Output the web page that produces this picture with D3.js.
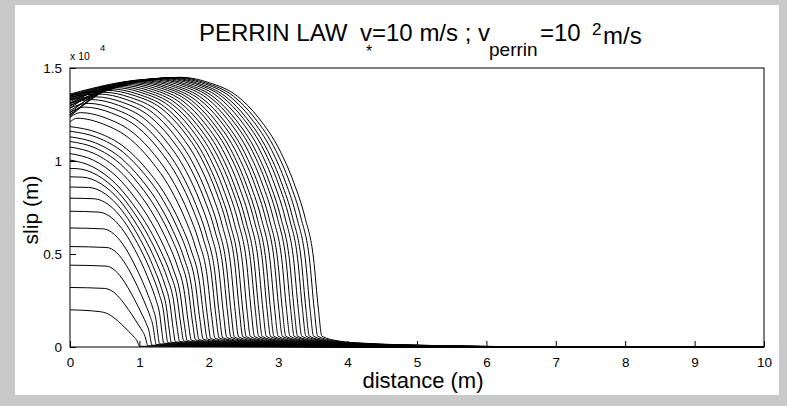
<!DOCTYPE html>
<html>
<head>
<meta charset="utf-8">
<script src="https://cdnjs.cloudflare.com/ajax/libs/d3/7.8.5/d3.min.js"></script>
<style>
  html, body { margin: 0; padding: 0; background: #c9c9c9; }
  svg { display: block; }
  text { font-family: "Liberation Sans", Arial, sans-serif; fill: #000; }
</style>
</head>
<body>
<svg id="chart" width="787" height="406"></svg>
<script>
// slip at x = 0 for each time step (x 1e-4 m)
const startSlip = [0.20, 0.32, 0.44, 0.54, 0.64, 0.73, 0.80, 0.86, 0.915, 0.96,
  1.005, 1.04, 1.075, 1.105, 1.13, 1.16, 1.185,
  1.21, 1.235, 1.26, 1.285, 1.31, 1.33, 1.345, 1.355, 1.35, 1.335, 1.31, 1.285,
  1.26, 1.245, 1.24, 1.25, 1.27, 1.295, 1.32, 1.34, 1.355, 1.36, 1.35, 1.33,
  1.31, 1.30, 1.31, 1.33, 1.35];
// where each curve's front starts to fall (m) and the slip there
const humpDist = [0.43, 0.50, 0.52, 0.53, 0.48, 0.42, 0.35, 0.27, 0.18, 0.10,
  0, 0, 0, 0, 0, 0, 0,
  0.10, 0.15, 0.21, 0.26, 0.31, 0.37, 0.42, 0.48, 0.53, 0.58, 0.64, 0.69, 0.74,
  0.80, 0.85, 0.91, 0.96, 1.01, 1.07, 1.12, 1.18, 1.23, 1.28, 1.34, 1.39, 1.44,
  1.50, 1.55, 1.60];
const humpSlip = [0.19, 0.315, 0.435, 0.535, 0.635, 0.725, 0.797, 0.858, 0.913, 0.959,
  1.005, 1.04, 1.075, 1.105, 1.13, 1.16, 1.185,
  1.23, 1.26, 1.29, 1.31, 1.33, 1.345, 1.36, 1.37, 1.38, 1.388, 1.395, 1.401,
  1.407, 1.412, 1.417, 1.421, 1.425, 1.428, 1.431, 1.434, 1.437, 1.44, 1.442,
  1.444, 1.446, 1.447, 1.448, 1.449, 1.45];
// rupture tip, where slip is down to the floor (m)
const tipDist = [1.00, 1.12, 1.18, 1.24, 1.29, 1.35, 1.41, 1.46, 1.52, 1.58,
  1.64, 1.69, 1.75, 1.81, 1.86, 1.92, 1.98, 2.03, 2.09, 2.15, 2.20, 2.26, 2.32,
  2.37, 2.43, 2.49, 2.54, 2.60, 2.66, 2.72, 2.77, 2.83, 2.89, 2.94, 3.00, 3.06,
  3.11, 3.17, 3.23, 3.28, 3.34, 3.40, 3.45, 3.51, 3.57, 3.63];
// how soft (S-shaped) each front is: 1 = soft, 0 = dome of the outer curve
const frontSoft = [0.5, 0.5, 0.45, 0.4, 0.35, 0.3, 0.28, 0.26, 0.24, 0.22, 0.2,
  0.18, 0.16, 0.14, 0.12, 0.1, 0.09, 0.08, 0.07, 0.06, 0.05, 0.04, 0.03, 0.02, 0.01, 0,
  0, 0, 0, 0, 0, 0, 0, 0, 0, 0, 0, 0, 0, 0, 0, 0, 0, 0, 0, 0];
// front shapes: share of hump->tip span, share of hump slip
const frontU = [0.2, 0.4, 0.55, 0.7, 0.8, 0.88, 0.94, 0.975, 1.0];
const domeV = [0.98, 0.93, 0.85, 0.73, 0.61, 0.48, 0.33, 0.14, 0.04];
const softV = [0.90, 0.65, 0.43, 0.22, 0.11, 0.05, 0.02, 0.01, 0];
// tail past the tip: distance beyond tip (m), share of hump slip
const tailDx = [0.25, 0.6, 1.2, 2.2, 3.4];
const tailV = [0.022, 0.014, 0.008, 0.003, 0];

const xTicks = [0, 1, 2, 3, 4, 5, 6, 7, 8, 9, 10];
const yTicks = [0, 0.5, 1, 1.5];

const svg = d3.select('#chart');

svg.append('rect')
  .attr('x', 15).attr('y', 5)
  .attr('width', 764).attr('height', 390)
  .attr('fill', '#fff');

const x = d3.scaleLinear().domain([0, 10]).range([70, 764]);
const y = d3.scaleLinear().domain([0, 1.5]).range([347, 68]);

svg.append('clipPath').attr('id', 'plotclip')
  .append('rect')
  .attr('x', x(0)).attr('y', y(1.5))
  .attr('width', x(10) - x(0)).attr('height', y(0) - y(1.5) + 1);

const curves = startSlip.map((s, i) => {
  const pts = [[0, s]];
  if (humpDist[i] > 0) pts.push([humpDist[i], humpSlip[i]]);
  const span = tipDist[i] - humpDist[i];
  const w = frontSoft[i];
  frontU.forEach((u, k) => {
    const v = w * softV[k] + (1 - w) * domeV[k];
    pts.push([humpDist[i] + u * span, v * humpSlip[i]]);
  });
  tailDx.forEach((d, k) => pts.push([tipDist[i] + d, tailV[k] * humpSlip[i]]));
  if (pts[pts.length - 1][0] < 10) pts.push([10, 0]);
  return pts;
});

const line = d3.line()
  .x(d => x(d[0]))
  .y(d => y(d[1]))
  .curve(d3.curveMonotoneX);

svg.append('g')
  .attr('clip-path', 'url(#plotclip)')
  .selectAll('path')
  .data(curves)
  .enter()
  .append('path')
  .attr('d', line)
  .attr('fill', 'none')
  .attr('stroke', '#000')
  .attr('stroke-width', 1);

// axes box
svg.append('rect')
  .attr('x', x(0)).attr('y', y(1.5))
  .attr('width', x(10) - x(0)).attr('height', y(0) - y(1.5))
  .attr('fill', 'none')
  .attr('stroke', '#000')
  .attr('stroke-width', 1);

svg.append('g')
  .attr('transform', `translate(0, ${y(0)})`)
  .call(d3.axisBottom(x).tickValues(xTicks).tickSizeInner(-6).tickSizeOuter(0).tickPadding(10))
  .call(g => g.select('.domain').remove())
  .call(g => g.selectAll('text').attr('font-size', '13.5px').attr('font-family', null));

svg.append('g')
  .attr('transform', `translate(${x(0)}, 0)`)
  .call(d3.axisLeft(y).tickValues(yTicks).tickFormat(d3.format('')).tickSizeInner(-6).tickSizeOuter(0).tickPadding(8))
  .call(g => g.select('.domain').remove())
  .call(g => g.selectAll('text').attr('font-size', '13.5px').attr('font-family', null));

svg.selectAll('.tick line').attr('stroke', '#000');

// exponent
svg.append('text').attr('x', 70).attr('y', 60).attr('font-size', '10.5px').text('x 10');
svg.append('text').attr('x', 100).attr('y', 51).attr('font-size', '9.5px').text('4');

// axis labels
svg.append('text')
  .attr('x', 423).attr('y', 388)
  .attr('text-anchor', 'middle')
  .attr('font-size', '22px')
  .text('distance (m)');

svg.append('text')
  .attr('transform', 'translate(38, 210) rotate(-90)')
  .attr('text-anchor', 'middle')
  .attr('font-size', '21px')
  .text('slip (m)');

// title
const title = svg.append('g').attr('font-size', '24px');
title.append('text').attr('x', 199).attr('y', 41).text('PERRIN LAW');
title.append('text').attr('x', 360).attr('y', 41).text('v');
title.append('text').attr('x', 366).attr('y', 57).attr('font-size', '16px').text('*');
title.append('text').attr('x', 372).attr('y', 41).text('=10 m/s ; v');
title.append('text').attr('x', 489).attr('y', 56).attr('font-size', '19px').text('perrin');
title.append('text').attr('x', 540).attr('y', 41).text('=10');
title.append('text').attr('x', 592).attr('y', 35).attr('font-size', '17px').text('2');
title.append('text').attr('x', 603).attr('y', 44).text('m/s');
</script>
</body>
</html>
